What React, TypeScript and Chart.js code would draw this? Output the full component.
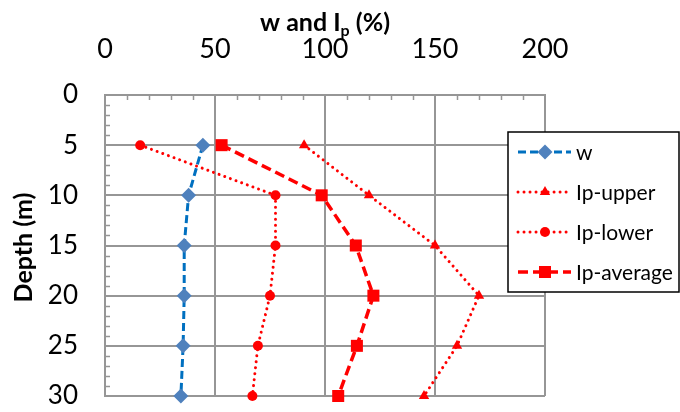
import React, { useEffect, useRef } from "react";
import { Chart, registerables } from "chart.js";

Chart.register(...registerables);

const depths = [5, 10, 15, 20, 25, 30];
const wValues = [44.5, 38, 36, 36, 35.5, 34.5];
const ipUpper = [90.5, 120, 150, 170, 160, 145];
const ipLower = [16, 77.5, 77.5, 75, 69.5, 67];
const ipAverage = [53, 98.5, 114, 122, 114.5, 106];
const seriesNames = ["w", "Ip-upper", "Ip-lower", "Ip-average"];
const xTitleMain = "w and I";
const xTitleSub = "p";
const xTitleEnd = " (%)";
const yTitle = "Depth (m)";

const FONT = "Lato, 'Open Sans', sans-serif";
const RED = "#ff0000";
const BLUE_LINE = "#0070c0";
const BLUE_MARK = "#4f81bd";
const GRID = "#969696";

const toPts = (vals: number[]) => vals.map((v, i) => ({ x: v, y: depths[i] }));

function drawMarker(ctx: CanvasRenderingContext2D, style: string, x: number, y: number, r: number, color: string) {
  ctx.save();
  ctx.fillStyle = color;
  ctx.beginPath();
  if (style === "rectRot") {
    ctx.moveTo(x, y - r);
    ctx.lineTo(x + r, y);
    ctx.lineTo(x, y + r);
    ctx.lineTo(x - r, y);
  } else if (style === "triangle") {
    for (let k = 0; k < 3; k++) {
      const a = (k * 2 * Math.PI) / 3;
      const px = x + Math.sin(a) * r;
      const py = y - Math.cos(a) * r;
      if (k === 0) ctx.moveTo(px, py);
      else ctx.lineTo(px, py);
    }
  } else if (style === "rect") {
    const s = r * Math.SQRT1_2;
    ctx.rect(x - s, y - s, 2 * s, 2 * s);
  } else {
    ctx.arc(x, y, r, 0, Math.PI * 2);
  }
  ctx.closePath();
  ctx.fill();
  ctx.restore();
}

const decorPlugin = {
  id: "decor",
  beforeDatasetsDraw(chart: any) {
    const { ctx, chartArea, scales } = chart;
    const xs = scales.x;
    const ys = scales.y;
    ctx.save();
    ctx.strokeStyle = GRID;
    ctx.lineWidth = 1.5;
    ctx.beginPath();
    for (let v = 10; v < 200; v += 10) {
      if (v % 50 === 0) continue;
      const px = Math.round(xs.getPixelForValue(v)) + 0.5;
      ctx.moveTo(px, chartArea.top);
      ctx.lineTo(px, chartArea.top + 5);
    }
    for (let v = 1; v < 30; v += 1) {
      if (v % 5 === 0) continue;
      const py = Math.round(ys.getPixelForValue(v)) + 0.5;
      ctx.moveTo(chartArea.left, py);
      ctx.lineTo(chartArea.left + 5, py);
    }
    ctx.stroke();
    ctx.restore();
  },
  afterDraw(chart: any) {
    const { ctx, chartArea } = chart;
    ctx.save();
    ctx.fillStyle = "#000";
    ctx.textBaseline = "alphabetic";
    ctx.textAlign = "left";
    const mainFont = `bold 25px ${FONT}`;
    const subFont = `bold 16px ${FONT}`;
    ctx.font = mainFont;
    const w1 = ctx.measureText(xTitleMain).width;
    const w3 = ctx.measureText(xTitleEnd).width;
    ctx.font = subFont;
    const w2 = ctx.measureText(xTitleSub).width;
    const total = w1 + w2 + w3;
    const x0 = (chartArea.left + chartArea.right) / 2 - total / 2;
    const base = 31;
    ctx.font = mainFont;
    ctx.fillText(xTitleMain, x0, base);
    ctx.font = subFont;
    ctx.fillText(xTitleSub, x0 + w1, base + 5);
    ctx.font = mainFont;
    ctx.fillText(xTitleEnd, x0 + w1 + w2, base);

    ctx.save();
    ctx.translate(24, (chartArea.top + chartArea.bottom) / 2 + 2);
    ctx.rotate(-Math.PI / 2);
    ctx.textAlign = "center";
    ctx.textBaseline = "middle";
    ctx.font = `bold 25px ${FONT}`;
    ctx.fillText(yTitle, 0, 0);
    ctx.restore();

    const bx = 508, by = 132, bw = 171, bh = 160;
    ctx.fillStyle = "#fff";
    ctx.fillRect(bx, by, bw, bh);
    ctx.strokeStyle = "#000";
    ctx.lineWidth = 1.5;
    ctx.strokeRect(bx, by, bw, bh);
    const rows = [152, 192, 232, 272];
    chart.data.datasets.forEach((ds: any, i: number) => {
      const y = rows[i];
      ctx.save();
      ctx.strokeStyle = ds.borderColor;
      ctx.lineWidth = ds.borderWidth;
      ctx.lineCap = ds.borderCapStyle || "butt";
      ctx.setLineDash(ds.borderDash || []);
      ctx.beginPath();
      ctx.moveTo(518, y);
      ctx.lineTo(571, y);
      ctx.stroke();
      ctx.restore();
      drawMarker(ctx, ds.pointStyle, 545, y, ds.pointRadius, ds.pointBackgroundColor);
      ctx.fillStyle = "#000";
      ctx.font = `21px ${FONT}`;
      ctx.textAlign = "left";
      ctx.textBaseline = "middle";
      ctx.fillText(ds.label, 576, y + 1);
    });
    ctx.restore();
  },
};

export default function App() {
  const ref = useRef<HTMLCanvasElement | null>(null);
  useEffect(() => {
    if (!ref.current) return;
    const chart = new Chart(ref.current, {
      type: "line",
      data: {
        datasets: [
          {
            label: seriesNames[0],
            data: toPts(wValues),
            borderColor: BLUE_LINE,
            borderWidth: 3,
            borderDash: [8, 4],
            pointStyle: "rectRot",
            pointRadius: 7.5,
            pointBackgroundColor: BLUE_MARK,
            pointBorderWidth: 0,
            pointBorderColor: BLUE_MARK,
          },
          {
            label: seriesNames[1],
            data: toPts(ipUpper),
            borderColor: RED,
            borderWidth: 3,
            borderDash: [0.01, 6],
            borderCapStyle: "round",
            pointStyle: "triangle",
            pointRadius: 6,
            pointBackgroundColor: RED,
            pointBorderWidth: 0,
            pointBorderColor: RED,
          },
          {
            label: seriesNames[2],
            data: toPts(ipLower),
            borderColor: RED,
            borderWidth: 3,
            borderDash: [0.01, 6],
            borderCapStyle: "round",
            pointStyle: "circle",
            pointRadius: 5,
            pointBackgroundColor: RED,
            pointBorderWidth: 0,
            pointBorderColor: RED,
          },
          {
            label: seriesNames[3],
            data: toPts(ipAverage),
            borderColor: RED,
            borderWidth: 3.5,
            borderDash: [10, 5],
            pointStyle: "rect",
            pointRadius: 8.5,
            pointBackgroundColor: RED,
            pointBorderWidth: 0,
            pointBorderColor: RED,
          },
        ] as any,
      },
      options: {
        animation: false,
        responsive: false,
        maintainAspectRatio: false,
        devicePixelRatio: 1,
        clip: false as any,
        layout: { padding: { left: 0, top: 0, right: 135, bottom: 16 } },
        plugins: { legend: { display: false }, tooltip: { enabled: false } },
        elements: { line: { tension: 0 } },
        scales: {
          x: {
            type: "linear",
            position: "top",
            min: 0,
            max: 200,
            ticks: {
              stepSize: 50,
              color: "#000",
              font: { family: FONT, size: 27 },
              padding: 30,
              maxRotation: 0,
            },
            grid: { color: GRID, lineWidth: 2, drawTicks: false },
            border: { color: GRID, width: 2 },
            afterFit: (s: any) => {
              s.height = 95;
              s.paddingLeft = 0;
              s.paddingRight = 0;
              s.paddingTop = 0;
              s.paddingBottom = 0;
            },
          },
          y: {
            type: "linear",
            reverse: true,
            min: 0,
            max: 30,
            ticks: {
              stepSize: 5,
              color: "#000",
              font: { family: FONT, size: 26 },
              padding: 27,
            },
            grid: { color: GRID, lineWidth: 2, drawTicks: false },
            border: { color: GRID, width: 2 },
            afterFit: (s: any) => {
              s.width = 105;
              s.paddingLeft = 0;
              s.paddingRight = 0;
              s.paddingTop = 0;
              s.paddingBottom = 0;
            },
          },
        },
      },
      plugins: [decorPlugin],
    });
    return () => chart.destroy();
  }, []);
  return (
    <div style={{ position: "absolute", left: 0, top: 0, width: 680, height: 412 }}>
      <canvas ref={ref} width={680} height={412} style={{ width: 680, height: 412, display: "block" }} />
    </div>
  );
}
